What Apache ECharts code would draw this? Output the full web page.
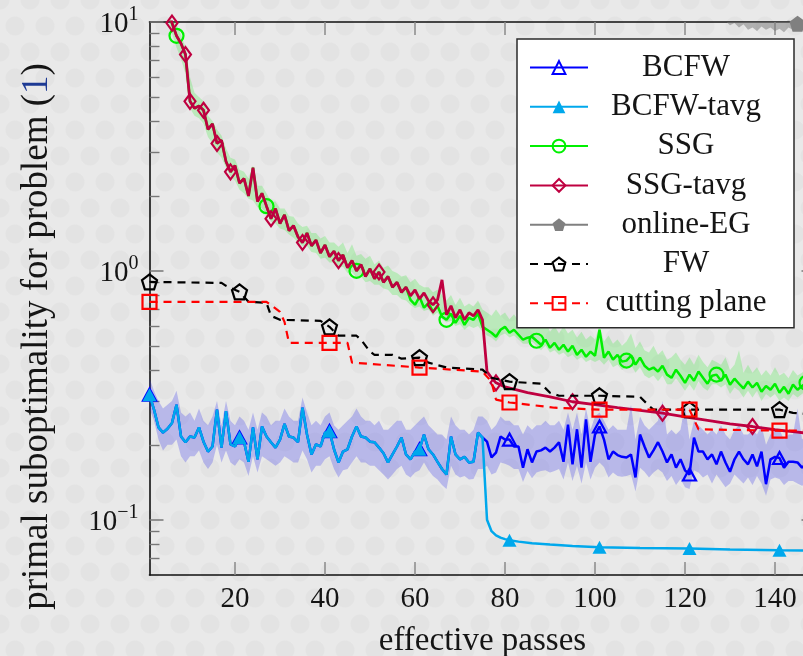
<!DOCTYPE html>
<html>
<head>
<meta charset="utf-8">
<script src="https://cdn.jsdelivr.net/npm/echarts@6/dist/echarts.min.js"></script>
<style>
html,body{margin:0;padding:0;overflow:hidden;background:#e9e9e9;}
#chart{width:803px;height:656px;background-color:#e9e9e9;
background-image:radial-gradient(circle, #e3e3e3 0, #e3e3e3 9px, rgba(0,0,0,0) 10px),radial-gradient(circle, #e3e3e3 0, #e3e3e3 9px, rgba(0,0,0,0) 10px);
background-size:30px 52px;background-position:0 0,15px 26px;}
</style>
</head>
<body>
<div id="chart"></div>
<script>
// ---------------- data ----------------
const seriesNames = ['BCFW','BCFW-tavg','SSG','SSG-tavg','online-EG','FW','cutting plane'];
const xTicks = [20,40,60,80,100,120,140];
const yMajorTicks = [0.1,1,10];
const yMinorTicks = [0.07,0.08,0.09,0.2,0.3,0.4,0.5,0.6,0.7,0.8,0.9,2,3,4,5,6,7,8,9];

// BCFW and BCFW-tavg coincide on passes 1..75
const bcfwHead = [0.318,0.277,0.235,0.224,0.232,0.245,0.29,0.216,0.205,0.216,
 0.214,0.235,0.206,0.188,0.197,0.277,0.195,0.273,0.201,0.197,
 0.214,0.206,0.171,0.235,0.175,0.237,0.216,0.205,0.195,0.21,
 0.243,0.216,0.214,0.205,0.282,0.22,0.183,0.201,0.197,0.224,
 0.227,0.192,0.17,0.188,0.192,0.216,0.237,0.216,0.214,0.206,
 0.205,0.195,0.185,0.17,0.183,0.197,0.214,0.183,0.175,0.188,
 0.192,0.22,0.192,0.183,0.171,0.16,0.152,0.216,0.183,0.175,
 0.179,0.17,0.171,0.224,0.214];
// BCFW passes 76..149
const bcfwTail = [0.206,0.178,0.186,0.216,0.21,0.21,0.197,0.197,0.162,0.192,
 0.17,0.188,0.19,0.195,0.188,0.195,0.205,0.171,0.241,0.167,
 0.231,0.162,0.253,0.171,0.22,0.237,0.21,0.175,0.188,0.182,
 0.179,0.178,0.183,0.148,0.22,0.197,0.178,0.19,0.205,0.188,
 0.17,0.183,0.162,0.175,0.158,0.152,0.214,0.188,0.188,0.175,
 0.183,0.167,0.188,0.17,0.156,0.175,0.188,0.175,0.167,0.183,
 0.164,0.188,0.139,0.175,0.179,0.177,0.162,0.171,0.171,0.17,
 0.162,0.168,0.172,0.165];
const bcfwTavgTailX = [76,77,78,79,80,81,83,86,90,95,101,110,121,130,141,149];
const bcfwTavgTailY = [0.1,0.09,0.0865,0.0848,0.0836,0.0827,0.0817,0.0805,0.0795,0.0785,0.0775,0.077,0.0766,0.076,0.0755,0.0752];
// BCFW shaded band, passes 1..149
const bcfwBandHigh = [0.37,0.33,0.3,0.28,0.29,0.3,0.33,0.27,0.26,0.27,
 0.25,0.28,0.25,0.24,0.26,0.3,0.24,0.3,0.25,0.24,
 0.26,0.25,0.23,0.27,0.23,0.27,0.26,0.24,0.25,0.25,
 0.28,0.26,0.25,0.25,0.31,0.27,0.24,0.25,0.24,0.26,
 0.27,0.24,0.23,0.24,0.25,0.26,0.28,0.26,0.25,0.25,
 0.24,0.25,0.23,0.23,0.24,0.25,0.25,0.23,0.23,0.24,
 0.25,0.26,0.24,0.23,0.22,0.22,0.21,0.26,0.24,0.23,
 0.23,0.22,0.23,0.26,0.26,0.25,0.23,0.24,0.26,0.25,
 0.25,0.24,0.24,0.22,0.24,0.23,0.24,0.24,0.25,0.24,
 0.24,0.25,0.23,0.27,0.23,0.27,0.22,0.28,0.23,0.26,
 0.27,0.25,0.23,0.24,0.23,0.23,0.23,0.29,0.21,0.26,
 0.24,0.23,0.24,0.25,0.3,0.22,0.23,0.22,0.23,0.29,
 0.21,0.25,0.24,0.23,0.22,0.23,0.22,0.24,0.22,0.21,
 0.23,0.24,0.22,0.22,0.23,0.22,0.24,0.2,0.22,0.23,
 0.23,0.21,0.22,0.22,0.28,0.21,0.22,0.22,0.21];
const bcfwBandLow = [0.28,0.25,0.21,0.19,0.2,0.2,0.21,0.18,0.17,0.18,
 0.18,0.19,0.17,0.16,0.17,0.2,0.17,0.19,0.17,0.165,
 0.175,0.17,0.15,0.18,0.155,0.18,0.175,0.17,0.165,0.17,
 0.18,0.175,0.17,0.17,0.19,0.175,0.155,0.165,0.165,0.175,
 0.18,0.16,0.148,0.158,0.16,0.17,0.18,0.17,0.17,0.165,
 0.165,0.158,0.152,0.145,0.152,0.16,0.165,0.152,0.148,0.155,
 0.158,0.17,0.158,0.15,0.145,0.138,0.133,0.165,0.152,0.148,
 0.15,0.145,0.146,0.16,0.16,0.165,0.152,0.155,0.17,0.168,
 0.165,0.16,0.16,0.142,0.157,0.147,0.155,0.157,0.158,0.155,
 0.157,0.16,0.145,0.17,0.143,0.165,0.14,0.17,0.145,0.162,
 0.17,0.163,0.148,0.155,0.15,0.149,0.15,0.152,0.13,0.162,
 0.156,0.148,0.155,0.16,0.155,0.143,0.15,0.138,0.146,0.135,
 0.133,0.158,0.155,0.148,0.152,0.14,0.152,0.143,0.135,0.14,
 0.152,0.146,0.14,0.148,0.138,0.15,0.14,0.125,0.145,0.148,
 0.146,0.138,0.143,0.143,0.14,0.137,0.14,0.142,0.138];

// SSG and SSG-tavg coincide on passes 5..58
const ssgHead = [11.8,9.9,8.8,8.2,7.4,4.8,4.5,4.6,4.42,3.7,
 3.9,3.25,3.35,2.75,2.5,2.65,2.25,2.35,2.0,2.6,
 1.9,2.05,1.82,1.62,1.78,1.55,1.68,1.45,1.52,1.37,
 1.30,1.42,1.26,1.33,1.18,1.27,1.14,1.2,1.1,1.16,
 1.03,1.1,1.0,1.06,0.95,1.02,0.93,0.99,0.9,0.95,
 0.86,0.9,0.82,0.86];
// SSG passes 59..149
const ssgTail = [0.765,0.731,0.787,0.711,0.744,0.685,0.724,0.655,0.636,0.673,0.618,0.66,0.607,0.648,0.636,0.673,0.596,
 0.58,0.564,0.544,0.58,0.596,0.564,0.58,0.554,0.529,0.539,
 0.544,0.524,0.505,0.529,0.491,0.514,0.482,0.505,0.474,0.5,
 0.46,0.482,0.452,0.474,0.456,0.58,0.448,0.474,0.44,0.46,
 0.432,0.436,0.456,0.42,0.448,0.416,0.401,0.409,0.394,0.416,
 0.383,0.372,0.401,0.379,0.355,0.383,0.362,0.394,0.372,0.352,
 0.379,0.383,0.362,0.383,0.349,0.369,0.352,0.337,0.359,0.34,
 0.355,0.327,0.345,0.333,0.352,0.324,0.342,0.321,0.349,0.333,
 0.345,0.355,0.333,0.345];
// SSG-tavg passes 59..75, then its smooth tail
const ssgTavgMid = [0.794,0.839,0.772,0.816,0.758,0.731,0.765,0.92,0.666,0.724,0.648,0.698,0.636,0.679,0.66,0.698,0.636];
const ssgTavgTailX = [76,77,78,80,85,90,95,100,105,110,115,120,125,130,135,140,145,149];
const ssgTavgTailY = [0.394,0.372,0.355,0.342,0.324,0.312,0.298,0.29,0.282,0.275,0.268,0.259,0.251,0.243,0.237,0.23,0.225,0.221];
// SSG shaded band, passes 5..149
const ssgBandHigh = [13,11,9.8,8.9,7.9,6.0,5.2,5.0,4.8,4.2,
 4.0,3.7,3.5,3.1,2.85,2.8,2.55,2.5,2.35,2.65,
 2.2,2.2,2.05,1.9,1.9,1.78,1.78,1.66,1.65,1.55,
 1.5,1.52,1.42,1.42,1.35,1.38,1.3,1.3,1.25,1.3,
 1.18,1.28,1.15,1.17,1.12,1.15,1.06,1.1,1.03,1.05,
 1.0,0.98,0.95,0.96,0.9,0.93,0.88,0.86,0.86,0.82,
 0.84,0.8,0.76,0.8,0.73,0.78,0.72,0.74,0.72,0.76,
 0.7,0.68,0.66,0.7,0.66,0.68,0.64,0.67,0.63,0.64,
 0.62,0.66,0.6,0.61,0.63,0.57,0.6,0.56,0.6,0.56,
 0.58,0.54,0.57,0.53,0.55,0.53,0.6,0.52,0.55,0.51,
 0.53,0.5,0.52,0.56,0.49,0.52,0.48,0.47,0.5,0.46,
 0.48,0.44,0.45,0.47,0.44,0.42,0.45,0.42,0.46,0.43,
 0.41,0.44,0.43,0.42,0.45,0.4,0.42,0.48,0.39,0.42,
 0.39,0.41,0.38,0.4,0.38,0.41,0.38,0.39,0.37,0.4,
 0.38,0.39,0.4,0.38,0.39];
const ssgBandLow = [10.5,9.0,7.9,7.1,6.2,4.5,4.2,4.1,3.9,3.45,
 3.25,3.0,2.85,2.6,2.4,2.3,2.12,2.05,1.95,1.92,
 1.8,1.78,1.7,1.58,1.55,1.48,1.46,1.4,1.36,1.3,
 1.26,1.26,1.19,1.18,1.12,1.13,1.08,1.08,1.03,1.04,
 0.98,0.99,0.94,0.95,0.9,0.91,0.88,0.88,0.85,0.84,
 0.8,0.8,0.77,0.76,0.73,0.71,0.72,0.69,0.7,0.66,
 0.68,0.64,0.62,0.63,0.6,0.61,0.58,0.6,0.59,0.6,
 0.57,0.55,0.54,0.52,0.55,0.56,0.54,0.55,0.53,0.51,
 0.51,0.52,0.5,0.48,0.5,0.47,0.48,0.46,0.47,0.45,
 0.46,0.44,0.45,0.43,0.44,0.43,0.44,0.42,0.44,0.41,
 0.42,0.4,0.41,0.42,0.39,0.41,0.38,0.37,0.38,0.36,
 0.38,0.35,0.35,0.37,0.35,0.33,0.35,0.33,0.36,0.34,
 0.33,0.35,0.35,0.34,0.35,0.32,0.34,0.33,0.31,0.33,
 0.31,0.33,0.3,0.32,0.31,0.32,0.3,0.31,0.3,0.32,
 0.31,0.32,0.33,0.31,0.32];

// online-EG, passes 120..149 (mostly above the plotted range)
const egY = [12.8,12.5,13.1,12.2,12.6,11.9,12.3,11.6,12.0,11.4,11.8,11.1,11.5,10.9,11.3,10.7,11.0,10.6,10.9,10.4,10.8,10.3,10.6,10.2,10.4,9.85,10.3,10.1,10.4,10.2];
const egBandLow = [11.5,11.2,11.6,10.9,11.1,10.6,10.9,10.4,10.6,10.1,9.7,9.9,9.5,9.8,9.3,9.5,9.2,9.6,9.3,9.5,9.2,9.4,9.1,9.5,9.3,9.2,9.4,9.2,9.5,9.3];
const egBandHigh = [15,14.6,15.2,14.3,14.8,14,14.5,13.7,14.1,13.4,13.8,13.1,13.5,12.8,13.2,12.6,12.9,12.4,12.7,12.2,12.6,12.1,12.4,11.9,12.2,11.6,12.1,11.8,12.2,11.9];

// FW and cutting plane (step-like)
const fwX = [1,17,18,21,23,27,28,30,39,41,43,47,48,50,51,55,57,61,63,67,75,77,81,88,90,92,101,110,112,113,121,141,144,149];
const fwY = [0.903,0.895,0.871,0.824,0.751,0.744,0.66,0.636,0.63,0.596,0.549,0.549,0.529,0.474,0.46,0.46,0.444,0.448,0.428,0.409,0.401,0.372,0.359,0.352,0.324,0.315,0.315,0.312,0.287,0.277,0.277,0.277,0.269,0.264];
const cpX = [1,27,30,31,32,41,45,46,61,75,77,78,81,91,101,121,123,141,149];
const cpY = [0.751,0.751,0.685,0.624,0.514,0.514,0.514,0.428,0.409,0.394,0.359,0.304,0.296,0.282,0.277,0.277,0.231,0.228,0.228];

// marker positions (passes)
const marksEvery20 = [1,21,41,61,81,101,121,141];
const ssgMarks = [7,27,47,67,87,107,127,147];
const ssgTavgMarks = [6,9,10,13,16,19,28,35,43,52,64,78,95,115,135];
const egMarks = [145];

// ---------------- chart ----------------
const FONT = "'Liberation Serif','DejaVu Serif','Times New Roman',serif";
const TXT = '#151515';
function passes(from, to){ const a=[]; for(let p=from;p<=to;p++) a.push(p); return a; }
function buildData(xs, ys, marks){
  return xs.map((x,i)=> marks.indexOf(x) >= 0 ? [x, ys[i]] : {value:[x, ys[i]], symbol:'none'});
}
// shaded band as one polygon through the library's coordinate system
function band(xs, low, high, color){
  let k = 0;
  for (let i = 1; i < low.length; i++) if (low[i] < low[k]) k = i;
  return {
    type:'custom', silent:true, z:1, clip:true, xAxisIndex:0, yAxisIndex:0,
    data:[[xs[k], low[k]]],
    renderItem:function(params, api){
      const pts = [];
      for (let i = 0; i < xs.length; i++) pts.push(api.coord([xs[i], high[i]]));
      for (let i = xs.length - 1; i >= 0; i--) pts.push(api.coord([xs[i], low[i]]));
      return {type:'polygon', shape:{points:pts}, style:{fill:color}};
    }
  };
}
const pentagon = 'path://M0,-10L9.511,-3.09L5.878,8.09L-5.878,8.09L-9.511,-3.09Z';
function lineSeries(name, xs, ys, marks, color, symbol, size, open, dashed, z, width){
  return {
    name:name, type:'line', data:buildData(xs, ys, marks), symbol:symbol, symbolSize:size,
    showAllSymbol:true, z:z, clip:true,
    lineStyle:{color:color, width:width || 2.4, type: dashed ? [8,6] : 'solid'},
    itemStyle: open ? {color:'rgba(0,0,0,0)', borderColor:color, borderWidth:2.2}
                    : {color:color, borderColor:color, borderWidth:0}
  };
}

const series = [
  band(passes(1,149), bcfwBandLow, bcfwBandHigh, 'rgba(40,40,235,0.25)'),
  band(passes(5,149), ssgBandLow, ssgBandHigh, 'rgba(40,235,40,0.24)'),
  band(passes(120,149), egBandLow, egBandHigh, 'rgba(120,120,120,0.5)'),
  lineSeries('BCFW', passes(1,149), bcfwHead.concat(bcfwTail), marksEvery20, '#0000ff', 'triangle', [13,12], true, false, 3, 2.5),
  lineSeries('BCFW-tavg', passes(1,75).concat(bcfwTavgTailX), bcfwHead.concat(bcfwTavgTailY), marksEvery20, '#00a8ec', 'triangle', [14,13], false, false, 4, 2.5),
  lineSeries('SSG', passes(5,149), ssgHead.concat(ssgTail), ssgMarks, '#00f000', 'circle', 14, true, false, 5, 2.5),
  lineSeries('SSG-tavg', passes(5,75).concat(ssgTavgTailX), ssgHead.concat(ssgTavgMid, ssgTavgTailY), ssgTavgMarks, '#bf0040', 'diamond', [11,15], true, false, 6, 2.8),
  lineSeries('online-EG', passes(120,149), egY, egMarks, '#808080', pentagon, 16, false, false, 7),
  lineSeries('FW', fwX, fwY, marksEvery20, '#000000', pentagon, 15, true, true, 8, 2.2),
  lineSeries('cutting plane', cpX, cpY, marksEvery20, '#ff0000', 'rect', 14, true, true, 9, 2.2)
];

function expLabel(v){
  const e = Math.round(Math.log10(v));
  return '{n|10}{s|' + (e < 0 ? '\u2212' + (-e) : e) + '}';
}
const logAxisBase = {type:'log', logBase:10, min:0.06, max:10, splitLine:{show:false}, minorTick:{show:false}, minorSplitLine:{show:false}};

const option = {
  animation:false,
  backgroundColor:'transparent',
  grid:{left:149.5, top:22, width:666, height:553, containLabel:false, outerBoundsMode:'none', show:false},
  legend:{
    data:seriesNames, orient:'vertical', left:517, top:39,
    backgroundColor:'#ffffff', borderColor:'#2b2b2b', borderWidth:1.5, borderRadius:0,
    padding:[13,15,9,12], itemWidth:58, itemHeight:16, itemGap:8.3, selectedMode:false,
    formatter: n => '{c|' + n + '}',
    textStyle:{fontFamily:FONT, fontSize:31, color:TXT,
      rich:{c:{fontFamily:FONT, fontSize:31, color:TXT, width:186, align:'center', lineHeight:36}}}
  },
  xAxis:[
    {type:'value', position:'bottom', min:1, max:149,
     axisLine:{show:true, onZero:false, lineStyle:{color:'#111', width:1.6}},
     axisTick:{show:true, inside:true, length:13, customValues:xTicks, lineStyle:{color:'#8a8a8a', width:1.5}},
     axisLabel:{customValues:xTicks, margin:10, fontFamily:FONT, fontSize:29, color:TXT},
     splitLine:{show:false},
     name:'effective passes', nameLocation:'middle', nameGap:50,
     nameTextStyle:{fontFamily:FONT, fontSize:33, color:TXT}},
    {type:'value', position:'top', min:1, max:149,
     axisLine:{show:true, onZero:false, lineStyle:{color:'#111', width:1.6}},
     axisTick:{show:true, inside:true, length:13, customValues:xTicks, lineStyle:{color:'#8a8a8a', width:1.5}},
     axisLabel:{show:false}, splitLine:{show:false}}
  ],
  yAxis:[
    Object.assign({}, logAxisBase, {position:'left',
     axisLine:{show:true, onZero:false, lineStyle:{color:'#111', width:1.6}},
     axisTick:{show:true, inside:true, length:14, customValues:yMajorTicks, lineStyle:{color:'#777', width:1.5}},
     axisLabel:{customValues:yMajorTicks, margin:11, formatter:expLabel, color:TXT,
       rich:{n:{fontFamily:FONT, fontSize:29, color:TXT, lineHeight:34, verticalAlign:'bottom'},
             s:{fontFamily:FONT, fontSize:20, color:TXT, lineHeight:18, verticalAlign:'top'}}},
     name:'primal suboptimality for problem ({b|1})', nameLocation:'middle', nameGap:94,
     nameTextStyle:{fontFamily:FONT, fontSize:37, color:TXT, padding:[0,76,0,0],
       rich:{b:{fontFamily:FONT, fontSize:37, color:'#1d3a94'}}}}),
    Object.assign({}, logAxisBase, {position:'left',
     axisLine:{show:false},
     axisTick:{show:true, inside:true, length:10, customValues:yMinorTicks, lineStyle:{color:'#777', width:1.4}},
     axisLabel:{show:false}}),
    Object.assign({}, logAxisBase, {position:'right',
     axisLine:{show:true, onZero:false, lineStyle:{color:'#111', width:1.6}},
     axisTick:{show:true, inside:true, length:14, customValues:yMajorTicks, lineStyle:{color:'#777', width:1.5}},
     axisLabel:{show:false}})
  ],
  series: series
};

const chart = echarts.init(document.getElementById('chart'), null, {renderer:'canvas'});
chart.setOption(option);
</script>
</body>
</html>
